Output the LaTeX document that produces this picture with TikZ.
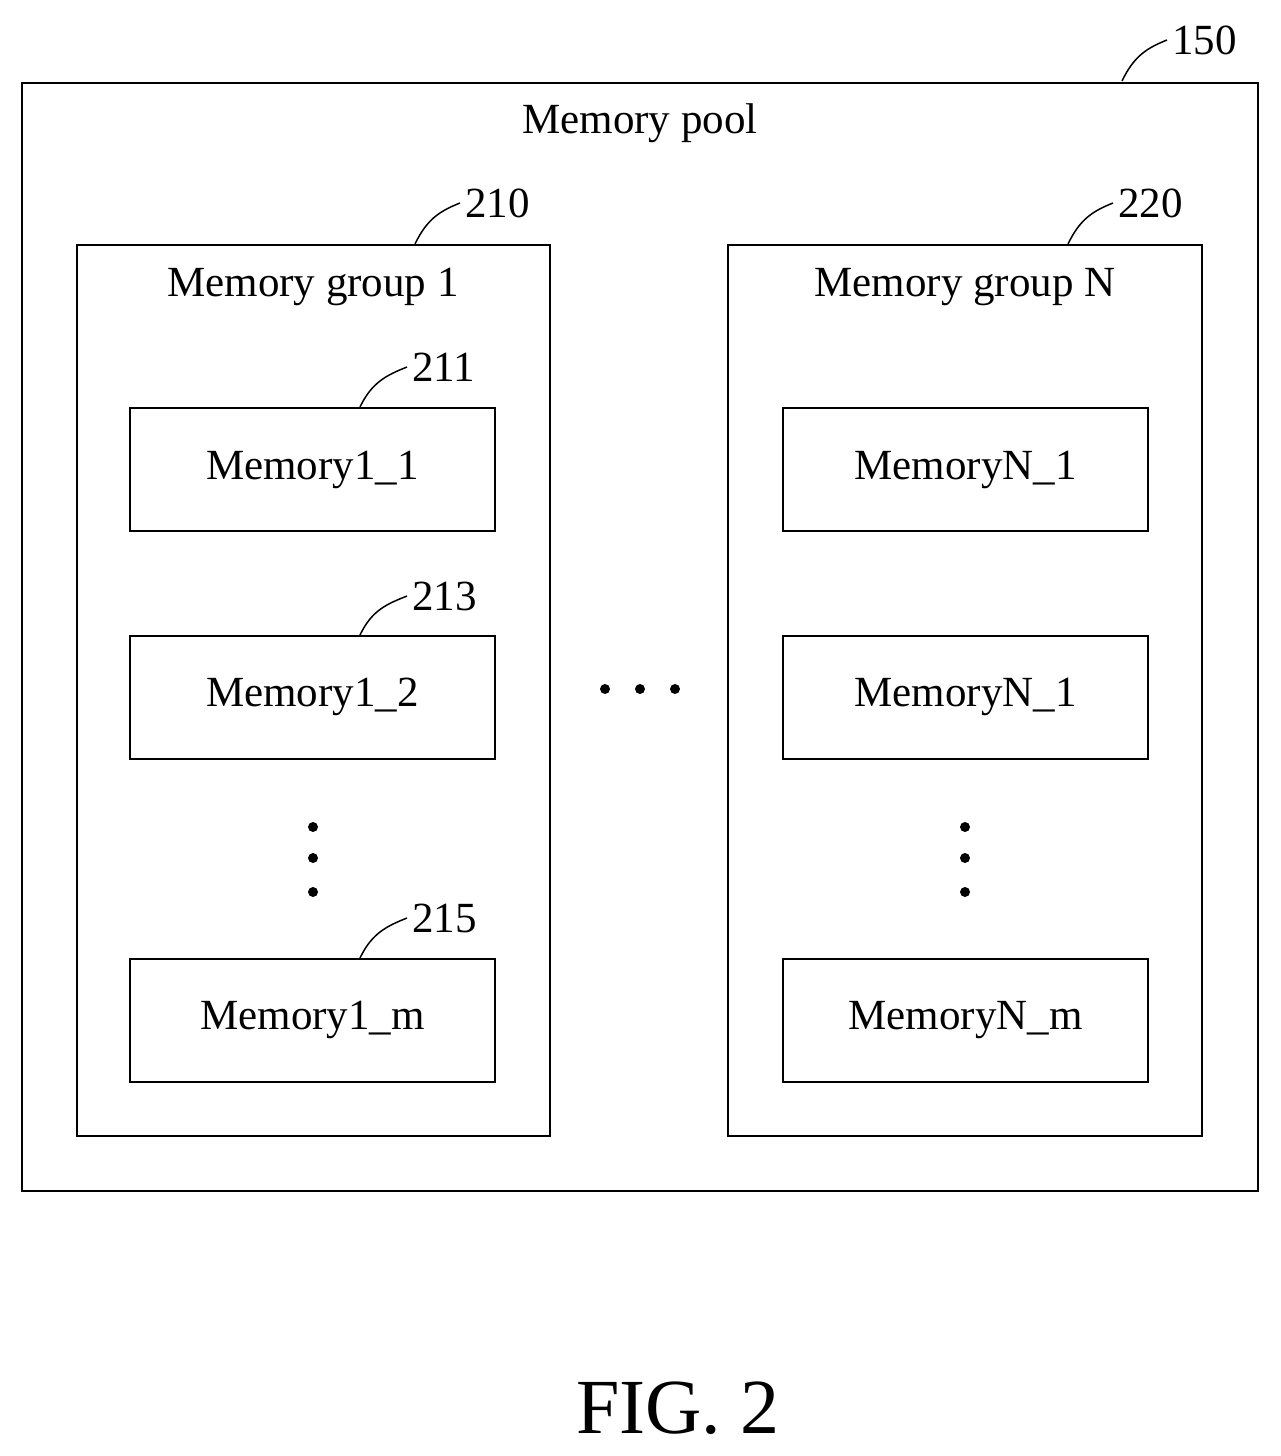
\documentclass[tikz,border=0pt]{standalone}
\usepackage{fontspec}
\setmainfont{Liberation Serif}
\usetikzlibrary{calc}
\begin{document}
\begin{tikzpicture}[x=1pt,y=-1pt,
  box/.style={draw,line width=2pt,inner sep=0pt},
  mem/.style={box,minimum width=365pt,minimum height=123pt,font=\fontsize{43}{48}\selectfont},
  txt/.style={font=\fontsize{43}{48}\selectfont,inner sep=0pt},
  lead/.style={line width=1.5pt},
  dot/.style={circle,fill,inner sep=0pt,minimum size=10pt}]
\useasboundingbox (0,0) rectangle (1280,1456);
\node[box,minimum width=1236pt,minimum height=1108pt] (pool) at (640,637) {};
\node[box,minimum width=473pt,minimum height=891pt] (g1) at (313.5,690.5) {};
\node[box,minimum width=474pt,minimum height=891pt] (gN) at (965,690.5) {};
\node[txt] (tpool) at (640,123) {Memory pool};
\node[txt] (tg1) at (313,287) {Memory group 1};
\node[txt] (tgN) at (965,287) {Memory group N};
\node[mem] (m11) at (312.5,469.5) {Memory1\_1};
\node[mem] (m12) at (312.5,697) {Memory1\_2};
\node[mem] (m1m) at (312.5,1020) {Memory1\_m};
\node[mem] (mN1) at (965.5,469.5) {MemoryN\_1};
\node[mem] (mN2) at (965.5,697) {MemoryN\_1};
\node[mem] (mNm) at (965.5,1020) {MemoryN\_m};
\node[txt,anchor=west] (l150) at (1172,40) {150};
\node[txt,anchor=west] (l210) at (465,203) {210};
\node[txt,anchor=west] (l220) at (1118,203) {220};
\node[txt,anchor=west] (l211) at (412,367) {211};
\node[txt,anchor=west] (l213) at (412,596) {213};
\node[txt,anchor=west] (l215) at (412,918) {215};
\foreach \n/\x/\y in {a/1122/81, b/415/244, c/1068/244, d/360/407, e/360/635, f/360/958}
  \coordinate (\n) at (\x,\y);
\foreach \s/\t in {a/l150, b/l210, c/l220, d/l211, e/l213, f/l215}
  \draw[lead] (\s) .. controls ($(\s)+(12,-25)$) and ($(\t.west)+(-25,8)$) .. ($(\t.west)+(-5,0)$);
\foreach \x in {605,640,675} \node[dot] at (\x,689) {};
\foreach \x in {313,965} \foreach \y in {827,858,892} \node[dot] at (\x,\y) {};
\node[font=\fontsize{78}{80}\selectfont,inner sep=0pt] (fig) at (678,1408) {FIG. 2};
\end{tikzpicture}
\end{document}
